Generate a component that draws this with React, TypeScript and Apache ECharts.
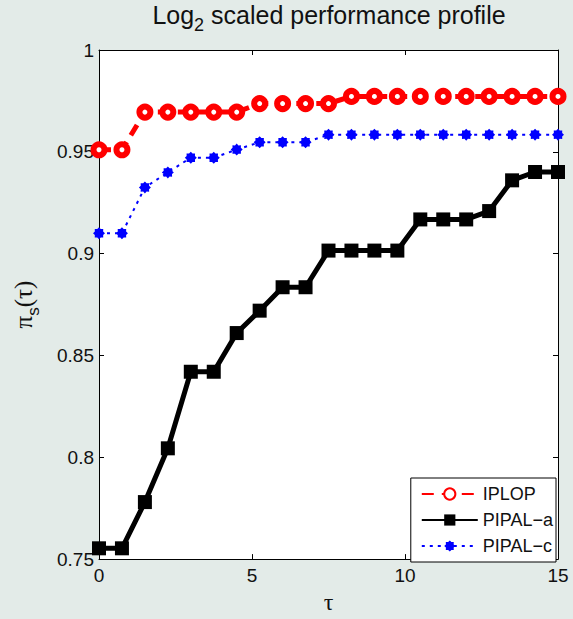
import React, { useEffect, useRef } from "react";
import * as echarts from "echarts";

const tau = [0, 0.75, 1.5, 2.25, 3, 3.75, 4.5, 5.25, 6, 6.75, 7.5, 8.25, 9, 9.75, 10.5, 11.25, 12, 12.75, 13.5, 14.25, 15];
const iplop = [0.951, 0.951, 0.9695, 0.9695, 0.9695, 0.9695, 0.9695, 0.9737, 0.9737, 0.9737, 0.9737, 0.9772, 0.9772, 0.9772, 0.9772, 0.9772, 0.9772, 0.9772, 0.9772, 0.9772, 0.9772];
const pipalA = [0.7553, 0.7553, 0.778, 0.8044, 0.842, 0.842, 0.861, 0.872, 0.8835, 0.8835, 0.9015, 0.9015, 0.9015, 0.9015, 0.9168, 0.9168, 0.9168, 0.9209, 0.936, 0.9401, 0.9401];
const pipalC = [0.91, 0.91, 0.9325, 0.9399, 0.9471, 0.9471, 0.9511, 0.9547, 0.9547, 0.9547, 0.9584, 0.9584, 0.9584, 0.9584, 0.9584, 0.9584, 0.9584, 0.9584, 0.9584, 0.9584, 0.9584];
const seriesNames = ["IPLOP", "PIPAL\u2212a", "PIPAL\u2212c"];

const starPath =
  "path://M20 10 L16.93 12.87 L17.07 17.07 L12.87 16.93 L10 20 L7.13 16.93 L2.93 17.07 L3.07 12.87 L0 10 L3.07 7.13 L2.93 2.93 L7.13 3.07 L10 0 L12.87 3.07 L17.07 2.93 L16.93 7.13 Z";

const FONT = "'Liberation Sans', Arial, Helvetica, sans-serif";
const SERIF = "'Liberation Serif', 'Times New Roman', serif";

export default function App() {
  const ref = useRef<HTMLDivElement>(null);
  useEffect(() => {
    if (!ref.current) return;
    const chart = echarts.init(ref.current, null, { renderer: "svg" });
    const pair = (ys: number[]) => tau.map((t, i) => [t, ys[i]]);
    const axisCommon = {
      axisLine: { show: true, onZero: false, lineStyle: { color: "#000", width: 1 } },
      splitLine: { show: false },
    };
    const tick = { show: true, inside: true, length: 5, lineStyle: { color: "#000" } };
    chart.setOption({
      animation: false,
      backgroundColor: "#e3ebe8",
      textStyle: { fontFamily: FONT },
      graphic: [
        {
          type: "text",
          x: 329,
          y: 1,
          style: {
            text: "{a|Log}{b|2}{a| scaled performance profile}",
            align: "center",
            verticalAlign: "top",
            rich: {
              a: { fontSize: 25, fontFamily: FONT, fill: "#111", lineHeight: 30, verticalAlign: "top", padding: [1, 0, 0, 0] },
              b: { fontSize: 18, fontFamily: FONT, fill: "#111", lineHeight: 30, verticalAlign: "top", padding: [15, 0, 0, 0] },
            },
          },
        },
      ],
      grid: { left: 99, right: 15, top: 50, bottom: 52, containLabel: false, show: true, backgroundColor: "#fff", borderWidth: 0 },
      legend: {
        orient: "vertical",
        right: 17,
        bottom: 57,
        data: seriesNames,
        itemWidth: 56,
        itemHeight: 14,
        itemGap: 8,
        padding: [7, 3, 7, 10],
        backgroundColor: "#fff",
        borderColor: "#000",
        borderWidth: 1,
        borderRadius: 0,
        textStyle: { fontSize: 18, color: "#111", fontFamily: FONT },
      },
      xAxis: [
        {
          type: "value",
          min: 0,
          max: 15,
          interval: 5,
          ...axisCommon,
          axisTick: tick,
          axisLabel: { show: true, fontSize: 19, color: "#111", margin: 7, fontFamily: FONT },
          name: "\u03c4",
          nameLocation: "middle",
          nameGap: 26,
          nameTextStyle: { fontSize: 24, color: "#111", fontFamily: SERIF },
        },
        {
          type: "value",
          position: "top",
          min: 0,
          max: 15,
          interval: 5,
          ...axisCommon,
          axisTick: tick,
          axisLabel: { show: false },
        },
      ],
      yAxis: [
        {
          type: "value",
          min: 0.75,
          max: 1,
          interval: 0.05,
          ...axisCommon,
          axisTick: tick,
          axisLabel: { show: true, fontSize: 19, color: "#111", margin: 5, fontFamily: FONT },
          name: "{p|\u03c0}{s|s}{p|(\u03c4)}",
          nameLocation: "middle",
          nameGap: 58,
          nameTextStyle: {
            rich: {
              p: { fontSize: 25, color: "#111", fontFamily: SERIF, lineHeight: 30, verticalAlign: "top" },
              s: { fontSize: 17, color: "#111", fontFamily: FONT, lineHeight: 30, verticalAlign: "top", padding: [14, 0, 0, 0] },
            },
          },
        },
        {
          type: "value",
          position: "right",
          min: 0.75,
          max: 1,
          interval: 0.05,
          ...axisCommon,
          axisTick: tick,
          axisLabel: { show: false },
        },
      ],
      series: [
        {
          name: seriesNames[1],
          type: "line",
          data: pair(pipalA),
          symbol: "rect",
          symbolSize: 14,
          lineStyle: { color: "#000", width: 5, type: "solid" },
          itemStyle: { color: "#000", borderColor: "#000", borderWidth: 0 },
          z: 2,
        },
        {
          name: seriesNames[2],
          type: "line",
          data: pair(pipalC),
          symbol: starPath,
          symbolSize: 12,
          lineStyle: { color: "#0000ff", width: 2, type: [3, 5] },
          itemStyle: { color: "#0000ff", borderWidth: 0 },
          z: 3,
        },
        {
          name: seriesNames[0],
          type: "line",
          data: pair(iplop),
          symbol: "circle",
          symbolSize: 11,
          lineStyle: { color: "#ff0000", width: 5, type: [12, 8] },
          itemStyle: { color: "#ffffff", borderColor: "#ff0000", borderWidth: 6 },
          z: 4,
        },
      ],
    });
    return () => chart.dispose();
  }, []);
  return <div ref={ref} style={{ width: 573, height: 619, position: "absolute", left: 0, top: 0 }} />;
}
